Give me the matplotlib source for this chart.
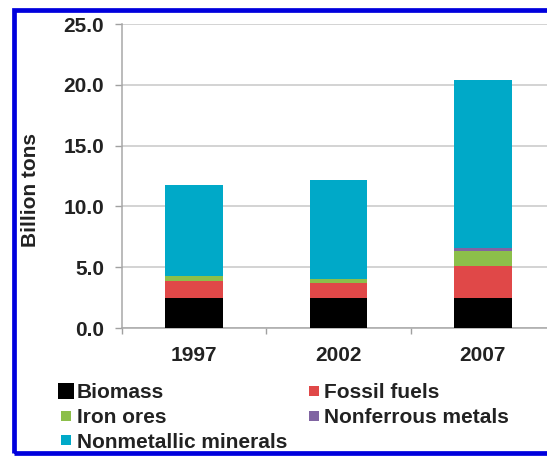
import matplotlib
matplotlib.use("Agg")
import matplotlib.pyplot as plt
from matplotlib.lines import Line2D
from matplotlib.patches import Rectangle
import numpy as np

years = ["1997", "2002", "2007"]
series_names = ["Biomass", "Fossil fuels", "Iron ores", "Nonferrous metals", "Nonmetallic minerals"]
biomass = [2.5, 2.5, 2.5]
fossil_fuels = [1.4, 1.2, 2.6]
iron_ores = [0.35, 0.3, 1.25]
nonferrous = [0.05, 0.05, 0.25]
nonmetallic = [7.5, 8.15, 13.8]
colors = ["#000000", "#E04848", "#8CBF4A", "#8064A2", "#00A9C8"]
yticks = [0, 5, 10, 15, 20, 25]

plt.rcParams['font.family'] = ['Liberation Sans', 'DejaVu Sans']
plt.rcParams['font.weight'] = 'bold'
txt = '#222222'

fig = plt.figure(figsize=(5.47, 4.57), dpi=100)
W, H = 547, 457
ax = fig.add_axes([122 / W, 1 - 328 / H, (555 - 122) / W, (328 - 24) / H])

x = np.arange(len(years))
data = [biomass, fossil_fuels, iron_ores, nonferrous, nonmetallic]
bottom = np.zeros(len(years))
for vals, c in zip(data, colors):
    ax.bar(x, vals, width=0.4, bottom=bottom, color=c, zorder=3)
    bottom += np.array(vals)

ax.set_xlim(-0.5, 2.5)
ax.set_ylim(0, 25)
ax.set_yticks(yticks)
ax.set_yticklabels([f"{v:.1f}" for v in yticks], fontsize=15, fontweight='bold', color=txt)
ax.set_xticks(x)
ax.set_xticklabels(years, fontsize=15, fontweight='bold', color=txt)
ax.set_xticks([-0.5, 0.5, 1.5, 2.5], minor=True)
ax.tick_params(axis='x', which='major', length=0, pad=13)
ax.tick_params(axis='x', which='minor', length=4, color='#A0A0A0', width=1)
ax.tick_params(axis='y', length=5, color='#A0A0A0', width=1, pad=8)
ax.grid(axis='y', color='#C8C8C8', linewidth=1.1, zorder=0)
ax.set_axisbelow(True)
for s in ['top', 'right']:
    ax.spines[s].set_visible(False)
for s in ['left', 'bottom']:
    ax.spines[s].set_color('#A8A8A8')
    ax.spines[s].set_linewidth(1.1)

fig.text(30 / W, 1 - 190 / H, "Billion tons", rotation=90, ha='center', va='center',
         fontsize=15, fontweight='bold', color=txt)

order = [0, 2, 4, 1, 3]
handles = []
for i in order:
    ms = 11 if i == 0 else 7
    handles.append(Line2D([], [], marker='s', linestyle='none', color=colors[i],
                          markersize=ms, markeredgewidth=0))
labels = [series_names[i] for i in order]
leg = fig.legend(handles, labels, ncol=2, loc='upper left',
                 bbox_to_anchor=(60 / W, 1 - 383 / H), frameon=False,
                 prop={'size': 15, 'weight': 'bold'}, handlelength=0.6,
                 handletextpad=0.2, labelspacing=0.28, columnspacing=0.98,
                 borderpad=0, borderaxespad=0)
for t in leg.get_texts():
    t.set_color(txt)

fig.patches.append(Rectangle((14 / W, 1 - 453 / H), (600 - 14) / W, (453 - 10) / H,
                             transform=fig.transFigure, fill=False,
                             edgecolor='#0000DD', linewidth=3.4, zorder=10))

fig.savefig("out.png", dpi=100)
